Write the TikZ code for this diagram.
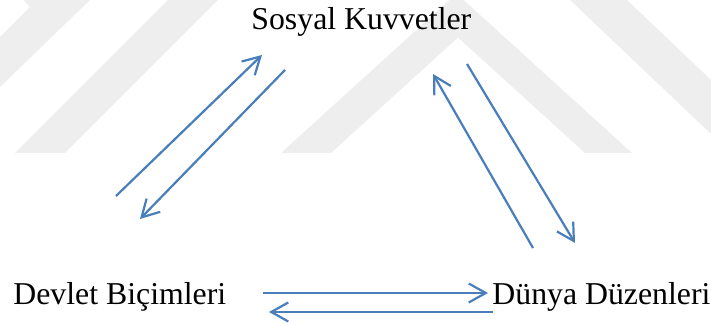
\documentclass[tikz,border=0pt]{standalone}
\usepackage{fontspec}
\setmainfont{Liberation Serif}
\usetikzlibrary{arrows.meta}
\definecolor{wordblue}{HTML}{4A7EBB}
\definecolor{wmark}{HTML}{EEEEEE}
\tikzset{
  label text/.style={inner sep=0pt, anchor=base west, font=\fontsize{15.9}{19}\selectfont},
  flowarrow/.style={draw=wordblue, line width=1.1pt, -{Straight Barb[length=8.5pt,width=9.5pt,line width=1.1pt]}},
  watermark/.style={fill=wmark, draw=none}
}
\begin{document}
\begin{tikzpicture}[x=0.5pt,y=-0.5pt]
\useasboundingbox (0,0) rectangle (711,324);
% faint background watermark
\begin{scope}
\clip (0,0) rectangle (711,324);
\fill[watermark] (23,0) -- (30,7) -- (0,37) -- (0,87) -- (90,0) -- cycle;
\fill[watermark] (15,153) -- (65,153) -- (218,0) -- (168,0) -- cycle;
\fill[watermark] (281,153) -- (331,153) -- (458,37.5) -- (585,153) -- (632,153) -- (456.5,-6.5) -- cycle;
\fill[watermark] (570,0) -- (627,0) -- (788,153) -- (731,153) -- cycle;
\end{scope}
% labels
\node[label text] (sk) at (251,30) {Sosyal Kuvvetler};
\node[label text] (db) at (13,305) {Devlet Biçimleri};
\node[label text] (dd) at (492,305) {Dünya Düzenleri};
% arrow end points
\coordinate (a1) at (116,196); \coordinate (a2) at (262,55);
\coordinate (b1) at (285,70);  \coordinate (b2) at (140,219);
\coordinate (c1) at (533,248); \coordinate (c2) at (433,74);
\coordinate (d1) at (467,64);  \coordinate (d2) at (575,243);
\coordinate (e1) at (263,293); \coordinate (e2) at (488,293);
\coordinate (f1) at (493,312); \coordinate (f2) at (269,312);
% arrows
\draw[flowarrow] (a1) -- (a2);
\draw[flowarrow] (b1) -- (b2);
\draw[flowarrow] (c1) -- (c2);
\draw[flowarrow] (d1) -- (d2);
\draw[flowarrow] (e1) -- (e2);
\draw[flowarrow] (f1) -- (f2);
\end{tikzpicture}
\end{document}
